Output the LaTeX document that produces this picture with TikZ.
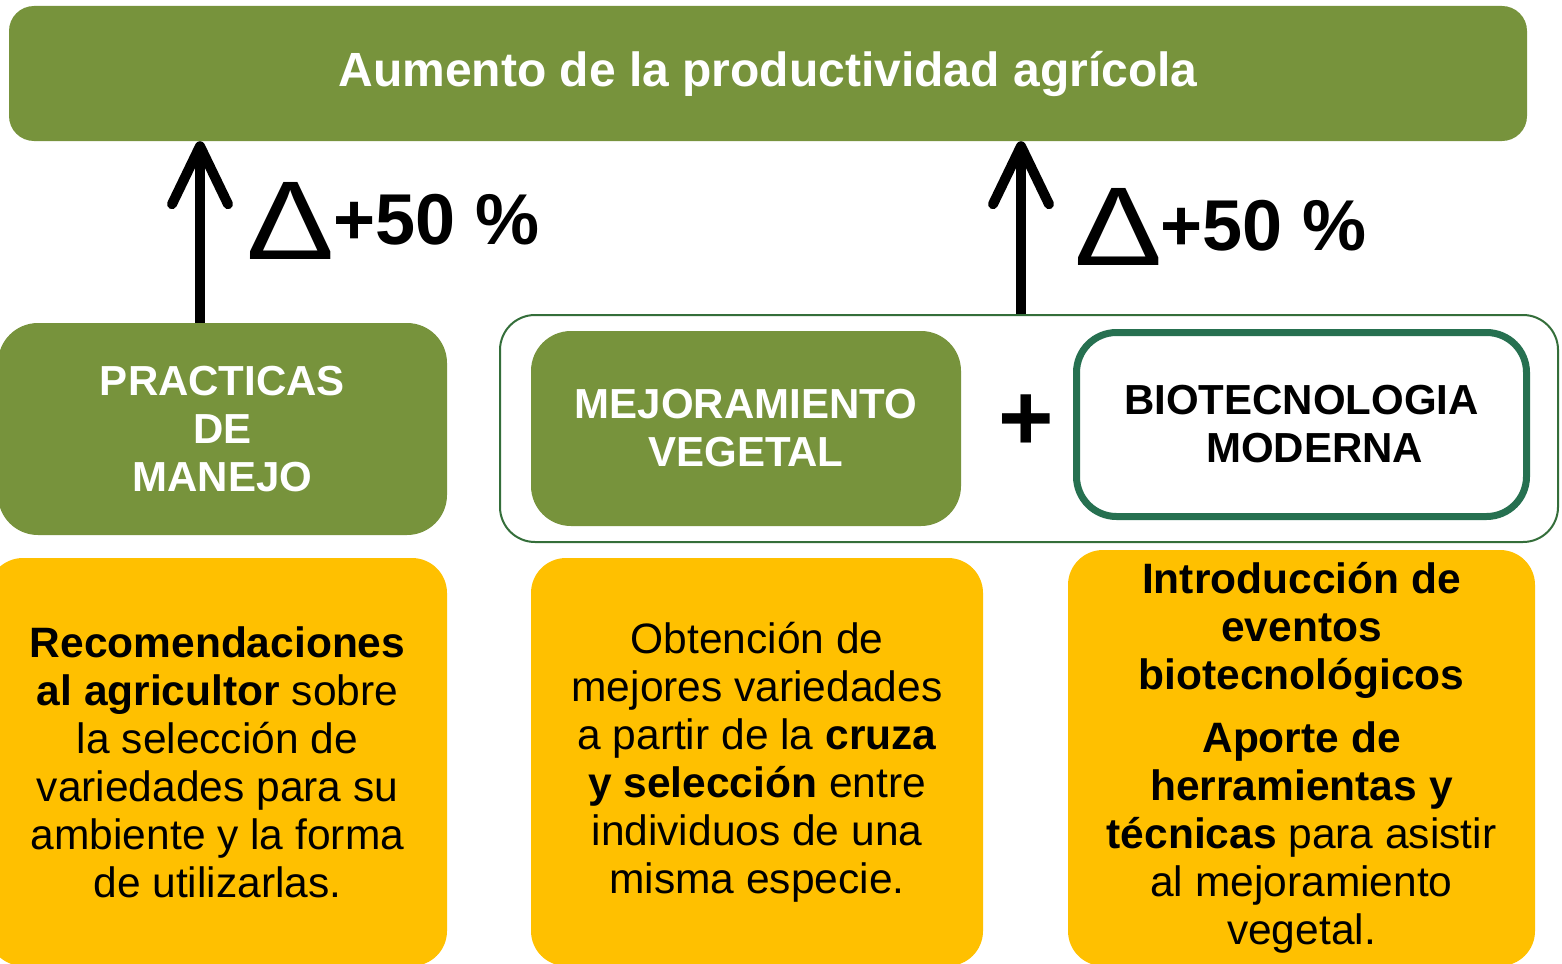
\documentclass[tikz,border=0pt]{standalone}
\usepackage{fontspec}
\setmainfont{Liberation Sans}
\usetikzlibrary{arrows.meta,positioning}

\definecolor{oliva}{HTML}{77933C}
\definecolor{amarillo}{HTML}{FFC000}
\definecolor{verdeosc}{RGB}{38,112,80}
\definecolor{verdelinea}{RGB}{52,110,58}

\begin{document}
\begin{tikzpicture}[x=1pt,y=-1pt,
  green node/.style={rectangle,rounded corners=40pt,fill=oliva,text=white,font=\fontsize{42}{48}\selectfont\bfseries,align=center,inner sep=0pt},
  white node/.style={rectangle,rounded corners=40pt,draw=verdeosc,line width=7pt,fill=white,font=\fontsize{42}{48}\selectfont\bfseries,align=center,inner sep=0pt},
  yellow node/.style={rectangle,rounded corners=35pt,fill=amarillo,font=\fontsize{42.5}{48}\selectfont,align=center,inner sep=0pt},
  delta node/.style={font=\fontsize{112}{112}\selectfont,inner sep=0pt,anchor=base west},
  pct node/.style={font=\fontsize{72}{72}\selectfont\bfseries,inner sep=0pt,anchor=base west},
  big arrow/.style={line width=10pt,-{Straight Barb[length=58pt,width=56pt,round]}}]

  \useasboundingbox (0,0) rectangle (1562,963);

  % top box
  \node[green node,rounded corners=25pt,minimum width=1518pt,minimum height=135pt,font=\fontsize{48}{48}\selectfont\bfseries] (title) at (768,73.5) {Aumento de la productividad agrícola};

  % second row
  \node[green node,minimum width=449pt,minimum height=212pt] (practicas) at (222.5,429) {PRACTICAS\\DE\\MANEJO};
  \node[rectangle,rounded corners=35pt,draw=verdelinea,line width=2pt,fill=white,minimum width=1058pt,minimum height=227pt] (grupo) at (1029,428.5) {};
  \node[green node,minimum width=430pt,minimum height=195pt] (mejora) at (746,428.5) {MEJORAMIENTO\\VEGETAL};
  \node[white node,minimum width=450pt,minimum height=184pt] (biotec) at (1301.5,424.5) {BIOTECNOLOGIA\\\hspace*{26pt}MODERNA};
  \node[font=\fontsize{95}{95}\selectfont\bfseries,inner sep=0pt] (mas) at (1026,423) {+};

  % bottom row
  \node[yellow node,minimum width=459pt,minimum height=408pt] (recom) at (217.5,762)
    {\textbf{Recomendaciones}\\\textbf{al agricultor} sobre\\la selección de\\variedades para su\\ambiente y la forma\\de utilizarlas.};
  \node[yellow node,minimum width=452pt,minimum height=408pt] (obtencion) at (757,762)
    {Obtención de\\mejores variedades\\a partir de la \textbf{cruza}\\\textbf{y selección} entre\\individuos de una\\misma especie.};
  \node[yellow node,minimum width=467pt,minimum height=416pt] (intro) at (1301.5,758)
    {\textbf{Introducción de}\\\textbf{eventos}\\\textbf{biotecnológicos}\\[15pt]\textbf{Aporte de}\\\textbf{herramientas y}\\\textbf{técnicas} para asistir\\al mejoramiento\\vegetal.};

  % arrows and labels
  \draw[big arrow] ([xshift=-22.5pt]practicas.north) -- ([xshift=-22.5pt]practicas.north |- title.south);
  \draw[big arrow] ([xshift=-8pt]grupo.north) -- ([xshift=-8pt]grupo.north |- title.south);

  \node[delta node] (deltaL) at (246,259) {\scalebox{1.18}[1]{Δ}};
  \node[pct node] (pctL) at (333,244) {+50 \%};
  \node[delta node] (deltaR) at (1074,265) {\scalebox{1.18}[1]{Δ}};
  \node[pct node] (pctR) at (1160,250) {+50 \%};
\end{tikzpicture}
\end{document}
